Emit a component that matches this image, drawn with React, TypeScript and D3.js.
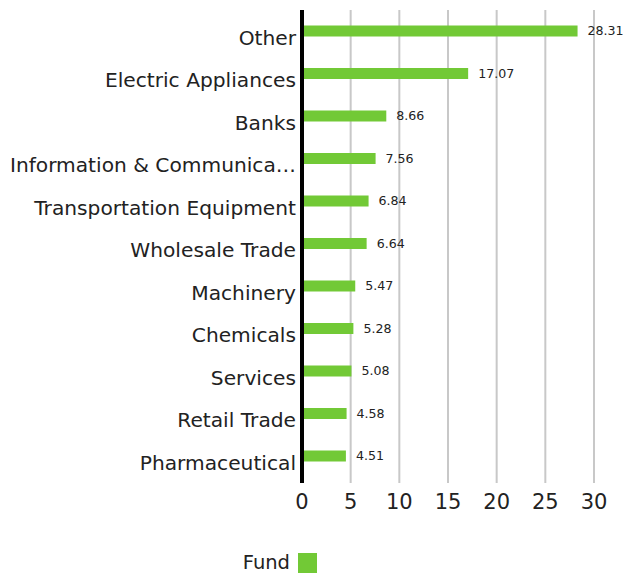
import React from "react";
import * as d3 from "d3";

const categories = [
  "Other",
  "Electric Appliances",
  "Banks",
  "Information & Communica…",
  "Transportation Equipment",
  "Wholesale Trade",
  "Machinery",
  "Chemicals",
  "Services",
  "Retail Trade",
  "Pharmaceutical",
];
const fundValues = [28.31, 17.07, 8.66, 7.56, 6.84, 6.64, 5.47, 5.28, 5.08, 4.58, 4.51];
const xTicks = [0, 5, 10, 15, 20, 25, 30];
const seriesName = "Fund";

const W = 625;
const H = 574;
const FONT = "'DejaVu Sans', sans-serif";
const GREEN = "#72c936";

export default function App() {
  const x = d3.scaleLinear().domain([0, 30]).range([302, 594]);
  const y = d3.scaleBand<string>().domain(categories).range([9.75, 477.25]).paddingInner(0.74).paddingOuter(0.37);
  const bh = 11;
  return (
    <svg width={W} height={H} style={{ position: "absolute", left: 0, top: 0 }} fontFamily={FONT}>
      {xTicks.filter((t) => t > 0).map((t) => (
        <line key={t} x1={x(t)} x2={x(t)} y1={10} y2={483} stroke="#c8c8c8" strokeWidth={2} />
      ))}
      {categories.map((c, i) => {
        const cy = (y(c) as number) + y.bandwidth() / 2;
        return (
          <g key={c}>
            <rect x={x(0)} y={cy - bh / 2} width={x(fundValues[i]) - x(0)} height={bh} fill={GREEN} />
            <text x={x(fundValues[i]) + 10} y={cy + 4} fontSize={12.6} fill="#222">
              {fundValues[i].toFixed(2)}
            </text>
            <text x={296} y={cy + 13.5} textAnchor="end" fontSize={20.2} fill="#222">
              {c}
            </text>
          </g>
        );
      })}
      <line x1={x(0)} x2={x(0)} y1={10} y2={483} stroke="#000" strokeWidth={4} />
      {xTicks.map((t) => (
        <text key={t} x={x(t)} y={509} textAnchor="middle" fontSize={21} fill="#222">
          {t}
        </text>
      ))}
      <text x={290} y={569} textAnchor="end" fontSize={19.5} fill="#222">
        {seriesName}
      </text>
      <rect x={298} y={553} width={19} height={20} fill={GREEN} />
    </svg>
  );
}
